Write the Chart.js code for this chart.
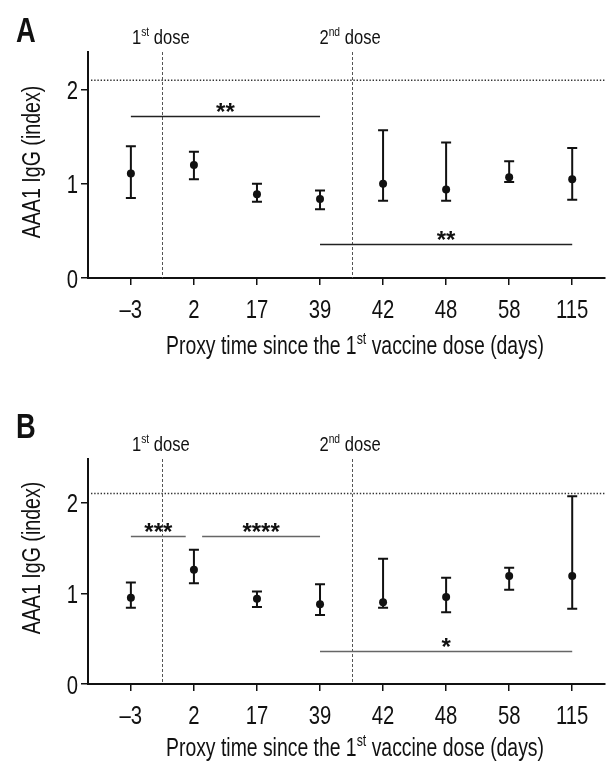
<!DOCTYPE html>
<html><head><meta charset="utf-8">
<script src="https://cdn.jsdelivr.net/npm/chart.js@4"></script>
<style>
html,body{margin:0;padding:0;background:#fff;overflow:hidden}
#wrap{position:relative;width:609px;height:763px;background:#fff}
canvas{position:absolute;left:0}
#cA{top:0}
#cB{top:380px}
</style></head><body>
<div id="wrap"><canvas id="cA" width="609" height="380" style="width:609px;height:380px"></canvas><canvas id="cB" width="609" height="383" style="width:609px;height:383px"></canvas></div>
<script>
// ---- data ----
const categories = ['–3','2','17','39','42','48','58','115'];
const meanA  = [1.11,1.20,0.89,0.84,1.00,0.94,1.07,1.05];
const upperA = [1.40,1.34,1.00,0.93,1.57,1.44,1.24,1.38];
const lowerA = [0.85,1.05,0.81,0.73,0.82,0.82,1.02,0.83];
const meanB  = [0.95,1.26,0.94,0.88,0.90,0.96,1.19,1.19];
const upperB = [1.12,1.48,1.02,1.10,1.38,1.17,1.28,2.07];
const lowerB = [0.84,1.11,0.85,0.76,0.84,0.79,1.04,0.83];
const yTicks = [0,1,2];
const threshold = 2.1;
const dosePositions = [0.5, 3.5];
const doseLabels = [['1','st'],['2','nd']];
const sigFromA = [0,3], sigToA = [3,7], sigYA = [1.72,0.36], sigTextA = ['**','**'];
const sigFromB = [0,1.13,3], sigToB = [0.87,3,7], sigYB = [1.63,1.63,0.36], sigTextB = ['***','****','*'];
const yTitle = 'AAA1 IgG (index)';
const xTitleParts = [['Proxy time since the 1',false],['st',true],[' vaccine dose (days)',false]];

const FONT = "'Liberation Sans',Arial,sans-serif";
const STAR_FONT = "bold 24px 'Liberation Sans','DejaVu Sans',sans-serif";

// draw horizontally condensed text
function cText(ctx, text, x, y, size, sx, align, weight) {
  ctx.font = (weight ? weight + ' ' : '') + size + 'px ' + FONT;
  const w = ctx.measureText(text).width * sx;
  let x0 = x;
  if (align === 'center') x0 = x - w/2; else if (align === 'right') x0 = x - w;
  ctx.save();
  ctx.translate(x0, y); ctx.scale(sx, 1);
  ctx.textAlign = 'left'; ctx.textBaseline = 'alphabetic';
  ctx.fillText(text, 0, 0);
  ctx.restore();
  return w;
}
function richText(ctx, parts, cx, baseline, size, sx) {
  const supSize = Math.round(size*0.62);
  let w = 0;
  const widths = parts.map(([t,sup]) => {
    ctx.font = (sup?supSize:size) + 'px ' + FONT;
    const m = ctx.measureText(t).width * sx; w += m; return m;
  });
  let x = cx - w/2;
  parts.forEach(([t,sup],i) => {
    cText(ctx, t, x, sup ? baseline - size*0.40 : baseline, sup?supSize:size, sx, 'left');
    x += widths[i];
  });
}

function makePanel(id, cfg) {
  const deco = {
    id: 'deco'+id,
    beforeDatasetsDraw(chart) {
      const {ctx, chartArea:a, scales:{x,y}} = chart;
      ctx.save();
      // threshold dotted line
      ctx.strokeStyle = '#333'; ctx.lineWidth = 1.5; ctx.setLineDash([1.4,1.8]);
      const ty = y.getPixelForValue(threshold);
      ctx.beginPath(); ctx.moveTo(a.left+3, ty); ctx.lineTo(a.right, ty); ctx.stroke();
      // dose lines
      ctx.strokeStyle = '#555'; ctx.lineWidth = 1; ctx.setLineDash([3,2]);
      dosePositions.forEach(p => {
        const px = Math.round(x.getPixelForValue(p))+0.5;
        ctx.beginPath(); ctx.moveTo(px, a.top); ctx.lineTo(px, a.bottom); ctx.stroke();
      });
      ctx.setLineDash([]);
      // error bars
      ctx.strokeStyle = '#111'; ctx.lineWidth = 2;
      cfg.mean.forEach((m,i) => {
        const px = x.getPixelForValue(i);
        const yu = y.getPixelForValue(cfg.upper[i]);
        const yl = y.getPixelForValue(cfg.lower[i]);
        ctx.beginPath();
        ctx.moveTo(px, yu); ctx.lineTo(px, yl);
        ctx.moveTo(px-5, yu); ctx.lineTo(px+5, yu);
        ctx.moveTo(px-5, yl); ctx.lineTo(px+5, yl);
        ctx.stroke();
      });
      ctx.restore();
    },
    afterDraw(chart) {
      const {ctx, chartArea:a, scales:{x,y}} = chart;
      ctx.save();
      // significance bars
      ctx.strokeStyle = cfg.sigColor; ctx.lineWidth = 1.3;
      cfg.sigFrom.forEach((f,i) => {
        const x1 = x.getPixelForValue(f), x2 = x.getPixelForValue(cfg.sigTo[i]);
        const py = Math.round(y.getPixelForValue(cfg.sigY[i]))+0.5;
        ctx.beginPath(); ctx.moveTo(x1, py); ctx.lineTo(x2, py); ctx.stroke();
        ctx.fillStyle = '#111'; ctx.font = STAR_FONT; ctx.textAlign = 'center'; ctx.textBaseline = 'alphabetic';
        ctx.fillText(cfg.sigText[i], (x1+x2)/2, py + 3);
      });
      ctx.fillStyle = '#111';
      // tick labels
      categories.forEach((c,i) => {
        cText(ctx, c, x.getPixelForValue(i), a.bottom + 39.5, 26, 0.78, 'center');
      });
      yTicks.forEach(v => {
        cText(ctx, String(v), 78, y.getPixelForValue(v) + 9.5, 26, 0.78, 'right');
      });
      // panel letter
      cText(ctx, cfg.letter, 16, cfg.letterBase, 35, 0.78, 'left', 'bold');
      // dose labels
      dosePositions.forEach((p,i) => {
        richText(ctx, [[doseLabels[i][0],false],[doseLabels[i][1],true],[' dose',false]], x.getPixelForValue(p)-1.5, cfg.doseBase, 21, 0.79);
      });
      // x title
      richText(ctx, xTitleParts, 355, cfg.xTitleBase, 25, 0.775);
      // y title
      ctx.save();
      ctx.translate(31, cfg.yTitleCenter);
      ctx.rotate(-Math.PI/2);
      cText(ctx, yTitle, 0, 9, 25, 0.785, 'center');
      ctx.restore();
      ctx.restore();
    }
  };
  const axisCommon = {
    grid:{display:true, drawOnChartArea:false, drawTicks:true, tickLength:7, color:'#111', lineWidth:1.5},
    border:{display:true, color:'#111', width:2}
  };
  return new Chart(document.getElementById(id), {
    type:'scatter',
    data:{datasets:[{
      data: cfg.mean.map((v,i)=>({x:i,y:v})),
      pointRadius:4, pointHoverRadius:4, backgroundColor:'#111', borderColor:'#111', borderWidth:0, showLine:false
    }]},
    options:{
      responsive:false, animation:false, events:[],
      layout:{padding:{top:cfg.top,left:0,right:0,bottom:0}},
      plugins:{legend:{display:false}, tooltip:{enabled:false}},
      scales:{
        x:Object.assign({type:'linear', min:-0.68, max:7.52,
          afterBuildTicks:s=>{s.ticks = categories.map((c,i)=>({value:i}));},
          afterFit:s=>{s.height = cfg.xAxisH;},
          ticks:{display:false}
        }, axisCommon),
        y:Object.assign({type:'linear', min:0, max:cfg.yMax,
          afterBuildTicks:s=>{s.ticks = yTicks.map(v=>({value:v}));},
          afterFit:s=>{s.width = 88;},
          ticks:{display:false}
        }, axisCommon)
      }
    },
    plugins:[deco]
  });
}

makePanel('cA', {mean:meanA, upper:upperA, lower:lowerA, sigFrom:sigFromA, sigTo:sigToA, sigY:sigYA, sigText:sigTextA,
  sigColor:'#222', yMax:2.4, top:52, xAxisH:102, letter:'A', letterBase:42, doseBase:44, xTitleBase:354, yTitleCenter:162});
makePanel('cB', {mean:meanB, upper:upperB, lower:lowerB, sigFrom:sigFromB, sigTo:sigToB, sigY:sigYB, sigText:sigTextB,
  sigColor:'#666', yMax:2.48, top:79, xAxisH:79, letter:'B', letterBase:58, doseBase:71, xTitleBase:376, yTitleCenter:178});
</script>
</body></html>
